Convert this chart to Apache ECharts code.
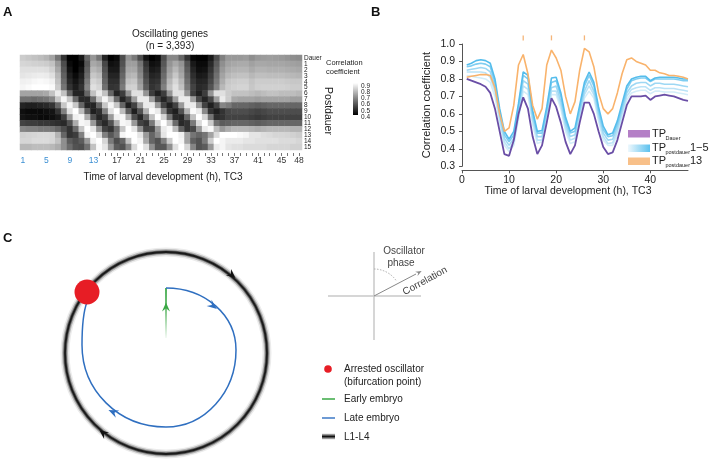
<!DOCTYPE html>
<html><head><meta charset="utf-8">
<script src="https://cdn.jsdelivr.net/npm/echarts@6/dist/echarts.min.js"></script>
<style>html,body{margin:0;padding:0;background:#fff}#c{width:709px;height:473px}</style>
</head><body><div id="c"></div>
<script>
// ---------- DATA ----------
const hours = [1,2,3,4,5,6,7,8,9,10,11,12,13,14,15,16,17,18,19,20,21,22,23,24,25,26,27,28,29,30,31,32,33,34,35,36,37,38,39,40,41,42,43,44,45,46,47,48];
const rowLabels = ['Dauer','1','2','3','4','5','6','7','8','9','10','11','12','13','14','15'];
const heatXLabelHours = [1,5,9,13,17,21,25,29,33,37,41,45,48];
const bXTicks = [0,10,20,30,40];
const peakMarkHours = [13,19,26];
const colorbarLabels = ['0.9','0.8','0.7','0.6','0.5','0.4'];

// correlation per TC3 hour for each post-dauer time point (heatmap rows, also panel B lines)
const rowDauer = [0.80,0.79,0.78,0.77,0.755,0.72,0.63,0.50,0.37,0.36,0.45,0.60,0.695,0.63,0.47,0.37,0.42,0.55,0.69,0.64,0.55,0.44,0.37,0.42,0.55,0.665,0.665,0.60,0.50,0.41,0.37,0.38,0.45,0.55,0.65,0.70,0.70,0.70,0.705,0.68,0.70,0.705,0.71,0.705,0.70,0.69,0.68,0.675];
const rowP1 = [0.82,0.815,0.81,0.805,0.80,0.78,0.70,0.55,0.42,0.385,0.42,0.57,0.73,0.71,0.54,0.43,0.44,0.56,0.71,0.71,0.63,0.50,0.43,0.44,0.57,0.69,0.73,0.69,0.56,0.45,0.42,0.42,0.48,0.58,0.68,0.72,0.73,0.735,0.735,0.715,0.73,0.73,0.725,0.725,0.725,0.72,0.715,0.71];
const rowP2 = [0.84,0.84,0.84,0.84,0.835,0.81,0.73,0.57,0.44,0.40,0.44,0.59,0.76,0.74,0.56,0.45,0.45,0.58,0.73,0.73,0.65,0.52,0.45,0.46,0.59,0.71,0.76,0.71,0.58,0.47,0.43,0.435,0.50,0.60,0.70,0.74,0.75,0.755,0.755,0.735,0.75,0.75,0.745,0.745,0.745,0.74,0.735,0.73];
const rowP3 = [0.85,0.855,0.86,0.865,0.86,0.84,0.76,0.59,0.46,0.42,0.46,0.61,0.79,0.77,0.58,0.47,0.47,0.60,0.75,0.76,0.67,0.54,0.47,0.48,0.61,0.73,0.79,0.73,0.60,0.49,0.45,0.455,0.52,0.62,0.72,0.76,0.775,0.78,0.78,0.76,0.775,0.775,0.77,0.77,0.77,0.765,0.76,0.755];
const rowP4 = [0.87,0.875,0.885,0.89,0.885,0.87,0.78,0.61,0.48,0.44,0.48,0.64,0.82,0.80,0.60,0.49,0.49,0.62,0.78,0.79,0.70,0.56,0.49,0.50,0.63,0.76,0.82,0.76,0.62,0.51,0.47,0.475,0.54,0.64,0.74,0.79,0.80,0.805,0.805,0.785,0.80,0.80,0.80,0.80,0.80,0.795,0.79,0.79];
const rowP5 = [0.88,0.89,0.905,0.91,0.905,0.89,0.80,0.63,0.50,0.455,0.50,0.66,0.84,0.82,0.62,0.50,0.505,0.64,0.805,0.81,0.72,0.58,0.50,0.52,0.65,0.78,0.84,0.78,0.64,0.53,0.48,0.49,0.56,0.66,0.76,0.80,0.81,0.815,0.815,0.79,0.805,0.81,0.81,0.81,0.81,0.805,0.80,0.80];
const rowP6 = [0.72,0.72,0.72,0.72,0.73,0.78,0.86,0.78,0.60,0.47,0.47,0.60,0.78,0.86,0.78,0.60,0.47,0.52,0.69,0.84,0.84,0.69,0.52,0.46,0.52,0.69,0.84,0.84,0.69,0.52,0.46,0.52,0.69,0.84,0.84,0.80,0.78,0.78,0.78,0.77,0.76,0.77,0.78,0.78,0.77,0.77,0.77,0.76];
const rowP7 = [0.62,0.62,0.61,0.62,0.63,0.66,0.79,0.88,0.79,0.61,0.48,0.48,0.61,0.79,0.88,0.79,0.61,0.47,0.54,0.71,0.86,0.86,0.71,0.54,0.47,0.54,0.71,0.86,0.86,0.71,0.54,0.47,0.54,0.71,0.86,0.80,0.73,0.72,0.72,0.72,0.71,0.72,0.72,0.72,0.72,0.72,0.71,0.71];
const rowP8 = [0.47,0.46,0.46,0.47,0.48,0.50,0.60,0.79,0.88,0.79,0.60,0.47,0.47,0.60,0.79,0.88,0.79,0.60,0.46,0.53,0.70,0.86,0.86,0.70,0.53,0.46,0.53,0.70,0.86,0.86,0.70,0.53,0.46,0.53,0.66,0.64,0.60,0.60,0.60,0.59,0.58,0.59,0.60,0.60,0.60,0.60,0.60,0.60];
const rowP9 = [0.43,0.42,0.42,0.42,0.43,0.44,0.50,0.65,0.84,0.90,0.77,0.58,0.46,0.49,0.65,0.84,0.90,0.77,0.58,0.46,0.56,0.75,0.89,0.86,0.67,0.50,0.46,0.56,0.75,0.89,0.86,0.67,0.50,0.46,0.50,0.54,0.55,0.55,0.55,0.54,0.53,0.54,0.55,0.55,0.55,0.55,0.55,0.55];
const rowP10 = [0.44,0.43,0.43,0.42,0.42,0.43,0.45,0.52,0.70,0.87,0.885,0.74,0.55,0.47,0.52,0.70,0.87,0.885,0.74,0.55,0.475,0.60,0.78,0.90,0.82,0.63,0.485,0.475,0.60,0.78,0.90,0.82,0.63,0.49,0.50,0.53,0.53,0.53,0.53,0.52,0.51,0.52,0.53,0.53,0.53,0.53,0.53,0.53];
const rowP11 = [0.53,0.52,0.52,0.51,0.51,0.50,0.49,0.48,0.56,0.74,0.885,0.87,0.70,0.53,0.48,0.56,0.74,0.885,0.87,0.70,0.53,0.50,0.64,0.83,0.90,0.80,0.61,0.48,0.50,0.64,0.83,0.90,0.80,0.62,0.58,0.59,0.60,0.60,0.60,0.59,0.58,0.59,0.60,0.60,0.60,0.60,0.60,0.60];
const rowP12 = [0.66,0.65,0.65,0.64,0.64,0.63,0.60,0.55,0.50,0.61,0.79,0.90,0.85,0.68,0.53,0.50,0.61,0.79,0.90,0.85,0.68,0.53,0.54,0.70,0.86,0.89,0.77,0.59,0.50,0.54,0.70,0.86,0.89,0.77,0.70,0.74,0.76,0.76,0.76,0.75,0.74,0.75,0.76,0.76,0.76,0.76,0.75,0.75];
const rowP13 = [0.81,0.815,0.82,0.825,0.825,0.82,0.75,0.60,0.50,0.52,0.65,0.88,0.94,0.83,0.65,0.57,0.63,0.88,0.965,0.92,0.85,0.70,0.60,0.67,0.85,0.975,0.955,0.87,0.72,0.63,0.60,0.63,0.72,0.83,0.91,0.92,0.90,0.89,0.88,0.85,0.85,0.835,0.83,0.82,0.82,0.815,0.81,0.80];
const rowP14 = [0.82,0.82,0.83,0.83,0.83,0.82,0.78,0.68,0.58,0.55,0.58,0.70,0.87,0.91,0.82,0.64,0.55,0.60,0.78,0.91,0.88,0.73,0.60,0.56,0.65,0.80,0.92,0.88,0.72,0.59,0.56,0.64,0.80,0.90,0.88,0.86,0.86,0.86,0.85,0.85,0.84,0.84,0.84,0.84,0.83,0.83,0.83,0.82];
const rowP15 = [0.76,0.76,0.77,0.77,0.77,0.76,0.74,0.68,0.61,0.56,0.55,0.62,0.78,0.89,0.85,0.70,0.58,0.56,0.66,0.83,0.90,0.84,0.68,0.57,0.57,0.68,0.84,0.90,0.82,0.66,0.56,0.58,0.70,0.86,0.88,0.85,0.84,0.84,0.83,0.83,0.83,0.83,0.82,0.82,0.82,0.82,0.81,0.81];

const heatRows = [rowDauer,rowP1,rowP2,rowP3,rowP4,rowP5,rowP6,rowP7,rowP8,rowP9,rowP10,rowP11,rowP12,rowP13,rowP14,rowP15];
const blueRows = [rowP1,rowP2,rowP3,rowP4,rowP5];
const blueColors = ['#d3edf9','#bae3f7','#9ed8f4','#7fcdf1','#55bdec'];

// ---------- BUILD ----------
const FF = '"Liberation Sans", Arial, sans-serif';
const heatData = [];
heatRows.forEach((row, r) => row.forEach((v, c) => heatData.push([c, r, v])));
const toXY = arr => hours.map((h, i) => [h, arr[i]]);

function dart(x, y, deg, len, half, color) {
  const a = deg * Math.PI / 180, c = Math.cos(a), s = Math.sin(a);
  const p = (u, v) => [x + u * c - v * s, y + u * s + v * c];
  return { type: 'polygon', shape: { points: [p(len * 0.5, 0), p(-len * 0.5, -half), p(-len * 0.15, 0), p(-len * 0.5, half)] }, style: { fill: color } };
}
function txt(x, y, text, size, opts) {
  opts = opts || {};
  return { type: 'text', x: x, y: y, rotation: opts.rot || 0,
    style: { text: text, fontSize: size, fontFamily: FF, fontWeight: opts.bold ? 'bold' : 'normal',
      fill: opts.color || '#222', align: opts.align || 'left', verticalAlign: opts.va || 'middle' } };
}

const series = [];
series.push({
  type: 'heatmap', xAxisIndex: 0, yAxisIndex: 0, data: heatData,
  itemStyle: { borderWidth: 0 }, emphasis: { disabled: true }
});
blueRows.forEach((row, i) => series.push({
  type: 'line', xAxisIndex: 1, yAxisIndex: 1, data: toXY(row), showSymbol: false,
  lineStyle: { color: blueColors[i], width: 1.6 }, itemStyle: { color: blueColors[i] }, z: 3 + i
}));
series.push({ type: 'line', xAxisIndex: 1, yAxisIndex: 1, data: toXY(rowP13), showSymbol: false,
  lineStyle: { color: '#f9b36c', width: 1.6 }, itemStyle: { color: '#f9b36c' }, z: 9 });
series.push({ type: 'line', xAxisIndex: 1, yAxisIndex: 1, data: toXY(rowDauer), showSymbol: false,
  lineStyle: { color: '#6a4ea6', width: 1.8 }, itemStyle: { color: '#6a4ea6' }, z: 10 });
series.push({ type: 'scatter', xAxisIndex: 1, yAxisIndex: 1, clip: false,
  data: peakMarkHours.map(h => [h, 1.035]), symbol: 'rect', symbolSize: [1.3, 5],
  itemStyle: { color: '#f3a257' }, z: 11 });

const ring = [
  { type: 'circle', shape: { cx: 166, cy: 353, r: 101 }, style: { fill: 'none', stroke: 'rgba(0,0,0,0.08)', lineWidth: 9 } },
  { type: 'circle', shape: { cx: 166, cy: 353, r: 101 }, style: { fill: 'none', stroke: 'rgba(0,0,0,0.22)', lineWidth: 6 } },
  { type: 'circle', shape: { cx: 166, cy: 353, r: 101 }, style: { fill: 'none', stroke: 'rgba(0,0,0,0.45)', lineWidth: 3.6 } },
  { type: 'circle', shape: { cx: 166, cy: 353, r: 101 }, style: { fill: 'none', stroke: '#1a1a1a', lineWidth: 1.8 } },
  dart(232, 275, 40, 9, 4, '#111'),
  dart(103, 433, 218, 9, 4, '#111')
];
const blueStyle = { stroke: '#2f6fc0', lineWidth: 1.5, fill: 'none' };
const diagram = [
  { type: 'line', shape: { x1: 166, y1: 338, x2: 166, y2: 288 },
    style: { lineWidth: 1.8, stroke: { type: 'linear', x: 0, y: 1, x2: 0, y2: 0, colorStops: [{ offset: 0, color: 'rgba(60,168,70,0)' }, { offset: 0.6, color: 'rgba(60,168,70,0.8)' }, { offset: 1, color: '#3aa845' }] } } },
  dart(166, 307, -90, 9, 4, '#3aa845'),
  { type: 'bezierCurve', shape: { x1: 166, y1: 288, cpx1: 205, cpy1: 288, cpx2: 236, cpy2: 315, x2: 236, y2: 350 }, style: blueStyle },
  { type: 'bezierCurve', shape: { x1: 236, y1: 350, cpx1: 236, cpy1: 392, cpx2: 205, cpy2: 427, x2: 166, y2: 427 }, style: blueStyle },
  { type: 'bezierCurve', shape: { x1: 166, y1: 427, cpx1: 118, cpy1: 427, cpx2: 82, cpy2: 390, x2: 82, y2: 345 }, style: blueStyle },
  { type: 'bezierCurve', shape: { x1: 82, y1: 345, cpx1: 82, cpy1: 325, cpx2: 84, cpy2: 310, x2: 87, y2: 302 }, style: blueStyle },
  dart(213, 306, 38, 10, 4, '#2f6fc0'),
  dart(113, 412, 205, 10, 4, '#2f6fc0'),
  { type: 'circle', shape: { cx: 87, cy: 292, r: 12.5 }, style: { fill: '#e71d25' } },
  // phase / correlation axes
  { type: 'line', shape: { x1: 328, y1: 296, x2: 421, y2: 296 }, style: { stroke: '#c9c9c9', lineWidth: 1.5 } },
  { type: 'line', shape: { x1: 374, y1: 252, x2: 374, y2: 340 }, style: { stroke: '#c9c9c9', lineWidth: 1.5 } },
  { type: 'arc', shape: { cx: 374, cy: 296, r: 27, startAngle: -Math.PI / 2, endAngle: -0.6, clockwise: true }, style: { stroke: '#aaa', lineWidth: 1, lineDash: [1.5, 1.5], fill: 'none' } },
  { type: 'line', shape: { x1: 374, y1: 296, x2: 416, y2: 274 }, style: { stroke: '#888', lineWidth: 1 } },
  dart(419, 272.5, -28, 6, 2.5, '#888'),
  txt(404, 251, 'Oscillator', 10, { align: 'center', color: '#444' }),
  txt(401, 263, 'phase', 10, { align: 'center', color: '#444' }),
  txt(425, 281, 'Correlation', 10, { align: 'center', color: '#444', rot: 0.5 }),
  // legend C
  { type: 'circle', shape: { cx: 328, cy: 369, r: 3.8 }, style: { fill: '#e71d25' } },
  txt(344, 369, 'Arrested oscillator', 10),
  txt(344, 382, '(bifurcation point)', 10),
  { type: 'line', shape: { x1: 322, y1: 399, x2: 335, y2: 399 }, style: { stroke: '#3aa845', lineWidth: 1.5 } },
  txt(344, 399, 'Early embryo', 10),
  { type: 'line', shape: { x1: 322, y1: 418, x2: 335, y2: 418 }, style: { stroke: '#3d78c6', lineWidth: 1.5 } },
  txt(344, 418, 'Late embryo', 10),
  { type: 'rect', shape: { x: 322, y: 433.5, width: 13, height: 6 },
    style: { fill: { type: 'linear', x: 0, y: 0, x2: 0, y2: 1, colorStops: [{ offset: 0, color: '#ddd' }, { offset: 0.5, color: '#111' }, { offset: 1, color: '#ddd' }] } } },
  txt(344, 437, 'L1-L4', 10)
];

const panelA = [
  txt(3, 12, 'A', 13, { bold: true, color: '#111' }),
  txt(170, 34, 'Oscillating genes', 10, { align: 'center' }),
  txt(170, 46, '(n = 3,393)', 10, { align: 'center' }),
  txt(328, 111, 'Postdauer', 10.5, { align: 'center', rot: -Math.PI / 2 }),
  txt(163, 177, 'Time of larval development (h), TC3', 10, { align: 'center' }),
  txt(326, 63, 'Correlation', 7.5),
  txt(326, 72, 'coefficient', 7.5),
  { type: 'rect', shape: { x: 353, y: 83, width: 5, height: 32 },
    style: { fill: { type: 'linear', x: 0, y: 0, x2: 0, y2: 1, colorStops: [{ offset: 0, color: '#ffffff' }, { offset: 1, color: '#000000' }] } } }
].concat(colorbarLabels.map((t, i) => txt(361, 86 + i * 6.2, t, 6.5)));

const panelB = [
  txt(371, 12, 'B', 13, { bold: true, color: '#111' }),
  txt(568, 191, 'Time of larval development (h), TC3', 10.5, { align: 'center' }),
  { type: 'rect', shape: { x: 628, y: 130, width: 22, height: 7.5 }, style: { fill: '#b47fc6' } },
  { type: 'rect', shape: { x: 628, y: 144.5, width: 22, height: 7.5 },
    style: { fill: { type: 'linear', x: 0, y: 0, x2: 1, y2: 0, colorStops: [{ offset: 0, color: '#eef8fd' }, { offset: 1, color: '#5cc1ee' }] } } },
  { type: 'rect', shape: { x: 628, y: 157.5, width: 22, height: 7.5 }, style: { fill: '#f8c089' } },
  txt(652, 133.5, 'TP', 11), txt(665.5, 138, 'Dauer', 5.5),
  txt(652, 147.5, 'TP', 11), txt(665.5, 152.5, 'postdauer', 5.5), txt(690, 148, '1\u22125', 11),
  txt(652, 160.5, 'TP', 11), txt(665.5, 165.5, 'postdauer', 5.5), txt(690, 160.5, '13', 11)
];

const option = {
  animation: false,
  backgroundColor: '#fff',
  textStyle: { fontFamily: FF },
  grid: [
    { left: 20, top: 55, width: 282, height: 95 },
    { left: 462, right: 21, top: 44, bottom: 306.7 }
  ],
  xAxis: [
    { gridIndex: 0, type: 'category', data: hours.map(String), offset: 3,
      axisLine: { show: false }, splitLine: { show: false },
      axisTick: { show: true, alignWithLabel: true, interval: i => i >= 13, length: 3, lineStyle: { color: '#777', width: 1 } },
      axisLabel: { interval: (i, v) => heatXLabelHours.indexOf(+v) >= 0, fontSize: 8.5, margin: 3,
        color: (v) => (+v <= 13 ? '#3b8fd3' : '#333') } },
    { gridIndex: 1, type: 'value', min: 0, max: 48, offset: 4,
      axisLine: { show: true, lineStyle: { color: '#555', width: 1 } },
      axisTick: { show: true, length: 3, customValues: bXTicks, lineStyle: { color: '#555' } },
      axisLabel: { customValues: bXTicks, fontSize: 10.5, color: '#222', margin: 4 },
      splitLine: { show: false } }
  ],
  yAxis: [
    { gridIndex: 0, type: 'category', data: rowLabels, inverse: true, position: 'right',
      axisLine: { show: false }, axisTick: { show: false }, splitLine: { show: false },
      axisLabel: { interval: 0, fontSize: 6.5, margin: 2, color: '#222' } },
    { gridIndex: 1, type: 'value', min: 0.3, max: 1.0, interval: 0.1, offset: 3,
      name: 'Correlation coefficient', nameLocation: 'middle', nameGap: 27,
      nameTextStyle: { fontSize: 11, color: '#222', fontFamily: FF },
      axisLine: { show: true, lineStyle: { color: '#555', width: 1 } },
      axisTick: { show: true, length: 3, lineStyle: { color: '#555' } },
      axisLabel: { fontSize: 10.5, color: '#222', margin: 4, formatter: v => v.toFixed(1) },
      splitLine: { show: false } }
  ],
  visualMap: { type: 'continuous', show: false, seriesIndex: 0, min: 0.4, max: 0.9, inRange: { color: ['#000000', '#ffffff'] } },
  series: series,
  graphic: { elements: panelA.concat(panelB, ring, diagram, [txt(3, 238, 'C', 13, { bold: true, color: '#111' })]) }
};

const chart = echarts.init(document.getElementById('c'), null, { renderer: 'canvas' });
chart.setOption(option);
</script></body></html>
